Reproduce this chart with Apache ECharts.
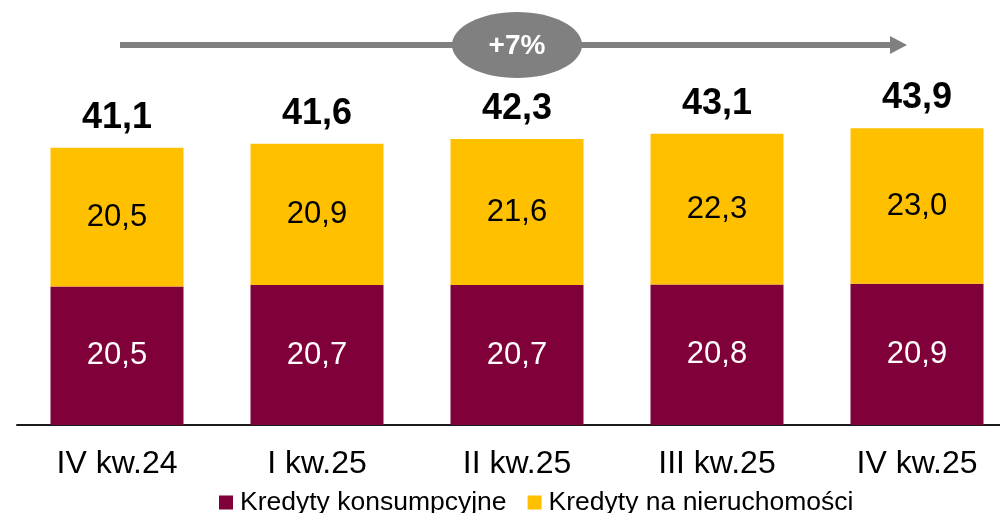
<!DOCTYPE html>
<html>
<head>
<meta charset="utf-8">
<script src="https://cdn.jsdelivr.net/npm/echarts@6/dist/echarts.min.js"></script>
<style>
html,body{margin:0;padding:0;background:#fff;}
#c{width:1000px;height:513px;}
</style>
</head>
<body>
<div id="c"></div>
<script>
const categories = ['IV kw.24', 'I kw.25', 'II kw.25', 'III kw.25', 'IV kw.25'];
const consumerLoans = [20.5, 20.7, 20.7, 20.8, 20.9];
const mortgageLoans = [20.5, 20.9, 21.6, 22.3, 23.0];
const totals = [41.1, 41.6, 42.3, 43.1, 43.9];
const seriesNames = ['Kredyty konsumpcyjne', 'Kredyty na nieruchomości'];
const growthLabel = '+7%';

const fmt = v => v.toFixed(1).replace('.', ',');
const FONT = '"Liberation Sans", Arial, sans-serif';

const chart = echarts.init(document.getElementById('c'), null, {renderer: 'canvas'});
chart.setOption({
  animation: false,
  backgroundColor: '#ffffff',
  textStyle: {fontFamily: FONT},
  grid: {left: 17, right: -17, top: 87, bottom: 88, containLabel: false, outerBoundsMode: 'none'},
  legend: {
    left: 214, top: 484,
    itemWidth: 14, itemHeight: 14, itemGap: 21,
    icon: 'rect',
    textStyle: {fontSize: 26.5, color: '#000', fontFamily: FONT, padding: [0, 0, 0, 2]},
    data: seriesNames
  },
  xAxis: {
    type: 'category',
    data: categories,
    axisLine: {lineStyle: {color: '#1a1a1a', width: 2}},
    axisTick: {show: false},
    axisLabel: {fontSize: 32, color: '#000', margin: 23, fontFamily: FONT}
  },
  yAxis: {
    type: 'value', min: 0, max: 50,
    show: false, splitLine: {show: false}
  },
  series: [
    {
      name: seriesNames[0], type: 'bar', stack: 's', data: consumerLoans,
      barCategoryGap: '33.5%',
      itemStyle: {color: '#80003A'},
      label: {show: true, position: 'inside', color: '#fff', fontSize: 31, fontFamily: FONT,
        formatter: p => fmt(p.value)}
    },
    {
      name: seriesNames[1], type: 'bar', stack: 's', data: mortgageLoans,
      itemStyle: {color: '#FFC000'},
      label: {show: true, position: 'inside', color: '#000', fontSize: 31, fontFamily: FONT,
        formatter: p => fmt(p.value)}
    },
    {
      name: 'total', type: 'bar', stack: 's', data: totals.map(() => 0),
      itemStyle: {color: 'transparent'},
      label: {show: true, position: 'top', distance: 12, color: '#000', fontSize: 36, fontWeight: 'bold', fontFamily: FONT,
        formatter: p => fmt(totals[p.dataIndex])},
      silent: true
    }
  ],
  graphic: [
    {type: 'line', shape: {x1: 120, y1: 45, x2: 893, y2: 45}, style: {stroke: '#808080', lineWidth: 6}},
    {type: 'polygon', shape: {points: [[890, 36], [907, 45], [890, 54]]}, style: {fill: '#808080'}},
    {type: 'ellipse', shape: {cx: 517, cy: 45, rx: 65, ry: 33}, style: {fill: '#808080'}},
    {type: 'text', x: 517, y: 46, style: {text: growthLabel, fill: '#fff', font: 'bold 28px ' + FONT, textAlign: 'center', textVerticalAlign: 'middle'}}
  ]
});
</script>
</body>
</html>
